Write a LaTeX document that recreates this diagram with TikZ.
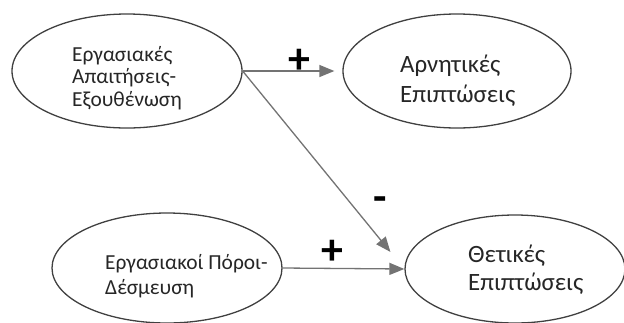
\documentclass[tikz,border=0pt]{standalone}
\usepackage{fontspec}
\setmainfont{Carlito}
\usetikzlibrary{arrows.meta,shapes.geometric}
\begin{document}
\begin{tikzpicture}[x=1bp,y=-1bp,
  bubble/.style={draw=black!75, line width=1.3bp, ellipse, inner sep=0pt},
  lbl/.style={align=left, inner sep=0pt, text=black!85},
  link/.style={draw=black!55, line width=1.3bp, -{Triangle[length=15bp,width=12bp]}},
  sign/.style={inner sep=0pt, font=\fontsize{44}{44}\selectfont\bfseries}]
\useasboundingbox (0,0) rectangle (624,322);
\clip (0,0) rectangle (624,322);
% ellipses
\node[bubble, minimum width=230bp, minimum height=114bp] (e1) at (127,71) {};
\node[bubble, minimum width=228bp, minimum height=114bp] (e2) at (457,71) {};
\node[bubble, minimum width=230bp, minimum height=110bp] (e3) at (167,268) {};
\node[bubble, minimum width=220bp, minimum height=108bp] (e4) at (515,269) {};
% texts
\node[lbl, font=\fontsize{21.5}{22.5}\selectfont, anchor=north west] (t1) at (72,46) {Εργασιακές\\Απαιτήσεις-\\Εξουθένωση};
\node[lbl, font=\fontsize{25}{30}\selectfont, anchor=north west] (t2) at (400,55) {Αρνητικές\\Επιπτώσεις};
\node[lbl, font=\fontsize{21.5}{25}\selectfont, anchor=north west] (t3) at (105,254) {Εργασιακοί Πόροι-\\Δέσμευση};
\node[lbl, font=\fontsize{25}{28}\selectfont, anchor=north west] (t4) at (468,245) {Θετικές\\Επιπτώσεις};
% connectors
\draw[link, shorten >=8bp] (e1.east) -- (e2.west);
\draw[link, shorten >=22bp] (e1.east) -- (e4.west);
\draw[link] (e3.east) -- (e4.west);
% signs
\node[sign] (p1) at (299,61) {+};
\node[sign] (m1) at (380,204) {-};
\node[sign] (p2) at (332,252) {+};
\end{tikzpicture}
\end{document}
